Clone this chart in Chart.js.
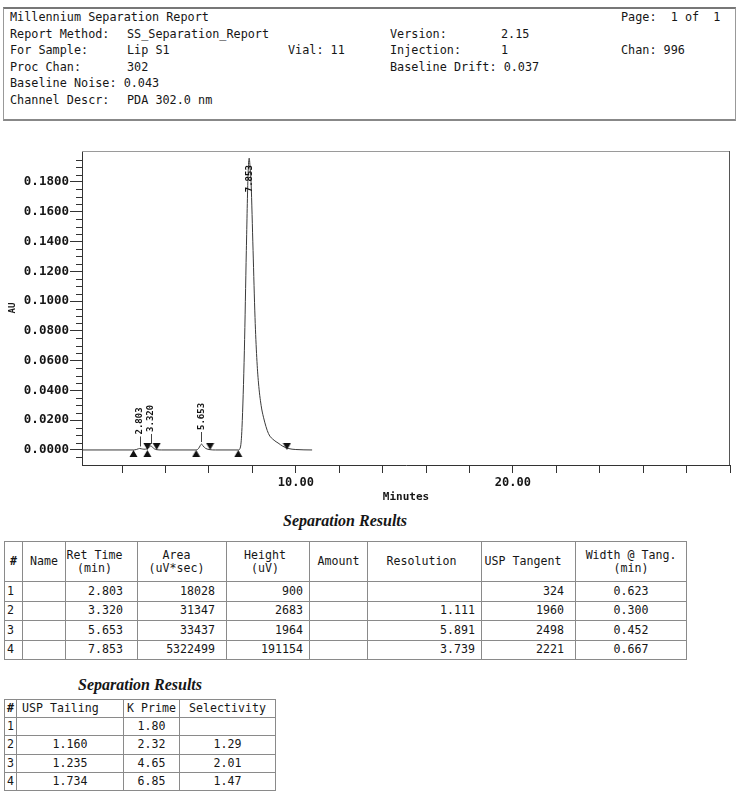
<!DOCTYPE html>
<html><head><meta charset="utf-8">
<script src="https://cdn.jsdelivr.net/npm/chart.js@4.4.0/dist/chart.umd.min.js"></script>
<style>
body{margin:0;width:738px;height:800px;position:relative;background:#fff;font-family:"DejaVu Sans Mono",monospace;color:#161616;overflow:hidden}
.hdr{position:absolute;left:3px;top:7px;width:731px;height:110px;border:1px solid #999;border-top:2px solid #777;border-bottom:2px solid #888}
.t{position:absolute;font-size:11.8px;white-space:pre;line-height:14px}
#wrap{position:absolute;left:0;top:125px;width:738px;height:385px}
.title{position:absolute;font-family:"Liberation Serif",serif;font-style:italic;font-weight:bold;font-size:16px;transform:translateX(-50%);white-space:nowrap}
table{position:absolute;border-collapse:collapse;table-layout:fixed;font-size:11.6px;font-family:"DejaVu Sans Mono",monospace;color:#161616}
td{border:1px solid #8a8a8a;padding:0;line-height:13px;overflow:hidden;white-space:pre}
td.c{text-align:center} td.r{text-align:right;padding-right:8px} td.l{text-align:left;padding-left:2px} td.hl{text-align:left;padding-left:5px}
</style></head>
<body>
<div class="hdr"></div>
<div id="hdrText"></div>
<div id="wrap"><canvas id="c" width="738" height="385"></canvas></div>
<div class="title" style="left:345px;top:512px">Separation Results</div>
<table id="t1" style="left:4px;top:541px;width:682px"></table>
<div class="title" style="left:140px;top:676px">Separation Results</div>
<table id="t2" style="left:4px;top:699px;width:271px"></table>
<script>
// ---------- header text ----------
const headerLines = [
  ["Millennium Separation Report", "", "", "", "", "Page:  1 of  1"],
  ["Report Method:", "SS_Separation_Report", "", "Version:", "2.15", ""],
  ["For Sample:", "Lip S1", "Vial: 11", "Injection:", "1", "Chan: 996"],
  ["Proc Chan:", "302", "", "Baseline Drift: 0.037", "", ""],
  ["Baseline Noise: 0.043", "", "", "", "", ""],
  ["Channel Descr:", "PDA 302.0 nm", "", "", "", ""]
];

// ---------- chromatogram trace ----------
const traceTimes = [0.15, 2.52, 2.65, 2.75, 2.803, 2.88, 3.00, 3.16, 3.25, 3.32, 3.40, 3.50, 3.59, 3.80,
  5.41, 5.52, 5.60, 5.653, 5.72, 5.85, 6.05, 6.30,
  7.35, 7.45, 7.52, 7.63, 7.72, 7.80, 7.853, 7.90, 7.94, 8.03, 8.12, 8.20, 8.28, 8.40, 8.51, 8.74, 9.00, 9.18, 9.40, 9.65, 10.00, 10.75];
const traceAU = [0, 0, 0.0003, 0.0008, 0.0010, 0.0008, 0.0005, 0.0008, 0.0020, 0.0027, 0.0018, 0.0006, 0.0002, 0,
  0, 0.0010, 0.0030, 0.0040, 0.0028, 0.0010, 0.0002, 0,
  0, 0.002, 0.015, 0.067, 0.134, 0.185, 0.196, 0.188, 0.179, 0.134, 0.089, 0.062, 0.045, 0.030, 0.022, 0.011, 0.0065, 0.0047, 0.0025, 0.001, 0.0003, 0];

const peakTimes = [2.803, 3.320, 5.653, 7.853];
const peakLabels = ["2.803", "3.320", "5.653", "7.853"];
const peakApexAU = [0.0010, 0.0027, 0.0040, 0.196];
const peakStarts = [2.52, 3.16, 5.41, 7.35];
const peakEnds = [3.16, 3.59, 6.05, 9.59];

const xTickLabels = {10: "10.00", 20: "20.00"};

// ---------- tables ----------
const t1Headers = ["#", "Name", "Ret Time\n(min)", "Area\n(uV*sec)", "Height\n(uV)", "Amount", "Resolution", "USP Tangent", "Width @ Tang.\n(min)"];
const rowNums = ["1", "2", "3", "4"];
const names = ["", "", "", ""];
const retTimes = ["2.803", "3.320", "5.653", "7.853"];
const areas = ["18028", "31347", "33437", "5322499"];
const heights = ["900", "2683", "1964", "191154"];
const amounts = ["", "", "", ""];
const resolutions = ["", "1.111", "5.891", "3.739"];
const uspTangent = ["324", "1960", "2498", "2221"];
const widthTang = ["0.623", "0.300", "0.452", "0.667"];

const t2Headers = ["#", "USP Tailing", "K Prime", "Selectivity"];
const uspTailing = ["", "1.160", "1.235", "1.734"];
const kPrime = ["1.80", "2.32", "4.65", "6.85"];
const selectivity = ["", "1.29", "2.01", "1.47"];

// build header
(function(){
  const xs = [10, 127, 288, 390, 501, 621];
  const ys = [10, 26.6, 43.2, 59.8, 76.4, 93];
  const host = document.getElementById('hdrText');
  headerLines.forEach((line, r) => line.forEach((txt, c) => {
    if (!txt) return;
    const d = document.createElement('div'); d.className = 't';
    d.style.left = xs[c] + 'px'; d.style.top = ys[r] + 'px'; d.textContent = txt; host.appendChild(d);
  }));
})();

// build tables
function buildTable(id, widths, headers, headH, rowH, cols, aligns, headAligns){
  const t = document.getElementById(id);
  const cg = document.createElement('colgroup');
  widths.forEach(w => { const c = document.createElement('col'); c.style.width = w + 'px'; cg.appendChild(c); });
  t.appendChild(cg);
  const hr = document.createElement('tr'); hr.style.height = headH + 'px';
  headers.forEach((h, i) => { const td = document.createElement('td'); td.className = headAligns[i]; td.textContent = h; hr.appendChild(td); });
  t.appendChild(hr);
  for (let r = 0; r < cols[0].length; r++) {
    const tr = document.createElement('tr'); tr.style.height = rowH + 'px';
    cols.forEach((col, c) => { const td = document.createElement('td'); td.className = aligns[c]; td.textContent = col[r]; tr.appendChild(td); });
    t.appendChild(tr);
  }
}
buildTable('t1', [18, 43, 72, 89, 83, 58, 114, 94, 111], t1Headers, 40, 19.5,
  [rowNums, names, retTimes, areas, heights, amounts, resolutions, uspTangent, widthTang],
  ['l', 'l', 'r', 'r', 'r', 'r', 'r', 'r', 'c'],
  ['c', 'c', 'c', 'c', 'c', 'c', 'c', 'c', 'c']);
buildTable('t2', [12, 107, 56, 96], t2Headers, 18, 18.3,
  [rowNums, uspTailing, kPrime, selectivity],
  ['l', 'c', 'c', 'c'],
  ['c', 'hl', 'c', 'c']);
document.querySelector('#t1 tr td').style.fontWeight = 'bold';
document.querySelector('#t2 tr td').style.fontWeight = 'bold';
document.querySelectorAll('#t1 tr:not(:first-child) td:nth-child(3)').forEach(td => td.style.paddingRight = '14px');
document.querySelectorAll('#t1 tr:not(:first-child) td:nth-child(4)').forEach(td => td.style.paddingRight = '11px');
document.querySelectorAll('#t1 tr:not(:first-child) td:nth-child(5)').forEach(td => td.style.paddingRight = '6px');
document.querySelectorAll('#t1 tr:not(:first-child) td:nth-child(7)').forEach(td => td.style.paddingRight = '6px');
document.querySelectorAll('#t1 tr:not(:first-child) td:nth-child(8)').forEach(td => td.style.paddingRight = '11px');

// ---------- chart ----------
function makeTri(up){
  const c = document.createElement('canvas'); c.width = 9; c.height = 18;
  const g = c.getContext('2d'); g.fillStyle = '#111'; g.beginPath();
  if (up) { g.moveTo(4.5, 9); g.lineTo(8.5, 16); g.lineTo(0.5, 16); }
  else { g.moveTo(0.5, 2); g.lineTo(8.5, 2); g.lineTo(4.5, 9); }
  g.closePath(); g.fill(); return c;
}
const MONO = '"DejaVu Sans Mono", monospace';

const decor = {
  id: 'decor',
  afterDraw(chart){
    const {ctx, chartArea: a, scales: {x: xs, y: ys}} = chart;
    ctx.save();
    ctx.lineWidth = 1;
    ctx.strokeStyle = '#9a9a9a';
    ctx.beginPath(); ctx.moveTo(a.left, a.top + 0.5); ctx.lineTo(a.right, a.top + 0.5); ctx.stroke();
    ctx.strokeStyle = '#555';
    ctx.beginPath(); ctx.moveTo(a.right - 0.5, a.top); ctx.lineTo(a.right - 0.5, a.bottom); ctx.stroke();
    // minor y ticks
    ctx.strokeStyle = '#333';
    for (let k = -2; k * 0.005 <= ys.max; k++) {
      if (k % 4 === 0) continue;
      const py = Math.round(ys.getPixelForValue(k * 0.005)) + 0.5;
      if (py < a.top || py > a.bottom) continue;
      ctx.beginPath(); ctx.moveTo(a.left - 6, py); ctx.lineTo(a.left, py); ctx.stroke();
    }
    // peak labels
    ctx.font = 'bold 9px ' + MONO; ctx.fillStyle = '#111'; ctx.strokeStyle = '#444';
    peakTimes.forEach((t, i) => {
      const px = xs.getPixelForValue(t), pa = ys.getPixelForValue(peakApexAU[i]);
      const w = ctx.measureText(peakLabels[i]).width;
      let base = pa - 14;
      if (base - w < a.top) { base = pa + 7 + w; }
      else {
        ctx.beginPath(); ctx.moveTo(Math.round(px) + 0.5, pa - 2); ctx.lineTo(Math.round(px) + 0.5, pa - 12); ctx.stroke();
      }
      ctx.save(); ctx.translate(px, base); ctx.rotate(-Math.PI / 2);
      ctx.textBaseline = 'middle'; ctx.textAlign = 'left'; ctx.fillText(peakLabels[i], 0, 0); ctx.restore();
    });
    ctx.restore();
  }
};

new Chart(document.getElementById('c'), {
  type: 'scatter',
  data: {
    datasets: [
      { data: traceTimes.map((t, i) => ({x: t, y: traceAU[i]})), showLine: true, borderColor: '#3a3a3a', borderWidth: 1,
        pointRadius: 0, cubicInterpolationMode: 'monotone', order: 2 },
      { data: peakStarts.map(t => ({x: t, y: 0})), pointStyle: makeTri(true), pointRadius: 5, showLine: false, order: 1 },
      { data: peakEnds.map(t => ({x: t, y: 0})), pointStyle: makeTri(false), pointRadius: 5, showLine: false, order: 1 }
    ]
  },
  options: {
    responsive: false, animation: false, devicePixelRatio: 1,
    layout: { padding: { top: 26, right: 8, left: 0, bottom: 0 } },
    plugins: { legend: { display: false }, tooltip: { enabled: false } },
    scales: {
      x: {
        type: 'linear', min: 0.15, max: 30,
        afterFit: s => { s.height = 45; },
        ticks: { stepSize: 2, includeBounds: false, autoSkip: false, maxRotation: 0, padding: 3,
          callback: v => xTickLabels[v] || '', font: { family: MONO, weight: 'bold', size: 12 }, color: '#161616' },
        grid: { drawOnChartArea: false, tickLength: 8, tickColor: '#333' },
        border: { color: '#333', width: 1 },
        title: { display: true, text: 'Minutes', font: { family: MONO, weight: 'bold', size: 11 }, color: '#161616', padding: { top: 0, bottom: 6 } }
      },
      y: {
        min: -0.0101, max: 0.2008,
        afterFit: s => { s.width = 82; },
        ticks: { stepSize: 0.02, includeBounds: false, padding: 1,
          callback: v => (v > -1e-9 && v < 0.19) ? v.toFixed(4) : '',
          font: { family: MONO, weight: 'bold', size: 12.5 }, color: '#161616' },
        grid: { drawOnChartArea: false, tickLength: 12, tickColor: c => (c.tick && c.tick.value > 0.19) ? 'rgba(0,0,0,0)' : '#333' },
        border: { color: '#333', width: 1 },
        title: { display: true, text: 'AU', font: { family: MONO, weight: 'bold', size: 9 }, color: '#161616', padding: { top: 7, bottom: 0 } }
      }
    }
  },
  plugins: [decor]
});
</script>
</body></html>
